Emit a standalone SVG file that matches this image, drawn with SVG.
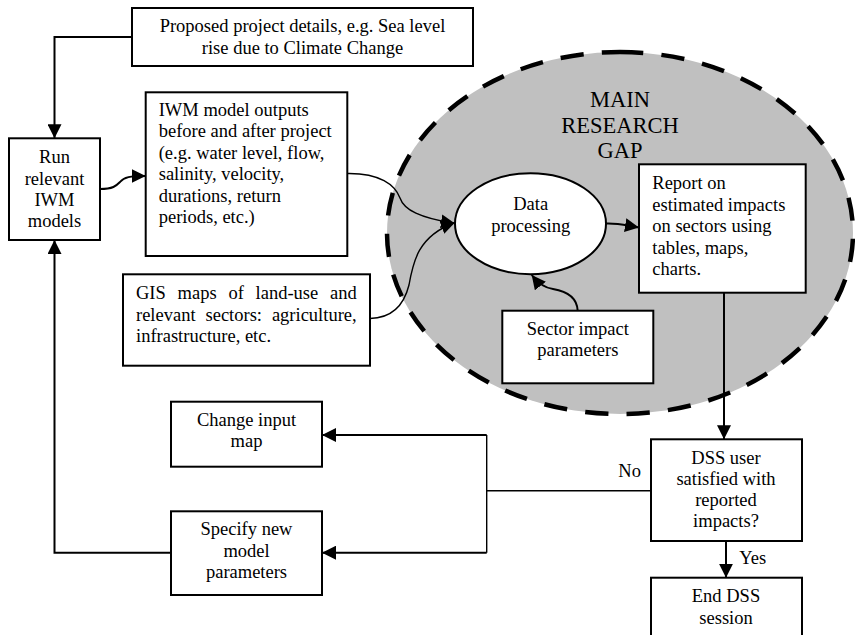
<svg xmlns="http://www.w3.org/2000/svg" width="855" height="635" viewBox="0 0 855 635">
  <defs>
    <style>
      .box { fill: #ffffff; stroke: #000000; stroke-width: 2; }
      .t { font-family: "Liberation Serif", "Times New Roman", serif; font-size: 18.5px; fill: #000000; }
      .c { text-anchor: middle; }
      .big { font-size: 22.5px; }
      .link { fill: none; stroke: #000000; stroke-width: 2; }
      .thin { fill: none; stroke: #000000; stroke-width: 1.4; }
      .gap-area { fill: #c0c0c0; stroke: #000000; stroke-width: 4.5; stroke-dasharray: 23 18; }
    </style>
    <marker id="arrow" markerUnits="userSpaceOnUse" markerWidth="15" markerHeight="14" refX="14" refY="7" orient="auto">
      <path d="M0,0 L14,7 L0,14 z" fill="#000000"/>
    </marker>
  </defs>

  <!-- shaded region: main research gap -->
  <g id="research-gap">
    <path class="gap-area" pathLength="1289" d="M620,52 A233,181 0 1,1 620,414 A233,181 0 1,1 620,52 Z"/>
    <text class="t c big" x="620" y="106.7">MAIN</text>
    <text class="t c big" x="620" y="132.7">RESEARCH</text>
    <text class="t c big" x="620" y="158.3">GAP</text>
  </g>

  <!-- connectors -->
  <g id="connectors">
    <path class="link" d="M132,37 H54.5 V138.3" marker-end="url(#arrow)"/>
    <path class="link" d="M100,189 C113,189 116,186 120,182 C124,177 130,176 145.7,176" marker-end="url(#arrow)"/>
    <path class="thin" d="M347.3,173.5 C380,173 395,185 400,198 C404,210 420,218 455,223.5" marker-end="url(#arrow)"/>
    <path class="thin" d="M370,318.5 C392,318 404,305 409,285 C413,262 418,236 455,222.5" marker-end="url(#arrow)"/>
    <path class="link" d="M606,223.5 C618,223 624,225 639,227.5" marker-end="url(#arrow)"/>
    <path class="link" d="M577.7,310.7 C577,297 565,291 553,289 C545,288 538,283 531.7,275" marker-end="url(#arrow)"/>
    <path class="link" d="M724,292.7 V439.3" marker-end="url(#arrow)"/>
    <path class="link" d="M726,541 V577.7" marker-end="url(#arrow)"/>
    <path class="thin" d="M651,490.7 H486.7"/>
    <path class="thin" d="M486.7,435 V552.7"/>
    <path class="link" d="M486.7,435 H322" marker-end="url(#arrow)"/>
    <path class="link" d="M486.7,552.7 H322" marker-end="url(#arrow)"/>
    <path class="link" d="M171,552.7 H54.5 V240" marker-end="url(#arrow)"/>
    <text class="t" x="618.3" y="476.7">No</text>
    <text class="t" x="739.3" y="564">Yes</text>
  </g>

  <g id="proposed-project">
    <rect class="box" x="132" y="8" width="341" height="58"/>
    <text class="t c" x="302.5" y="32.3">Proposed project details, e.g. Sea level</text>
    <text class="t c" x="302.5" y="54">rise due to Climate Change</text>
  </g>

  <g id="run-models">
    <rect class="box" x="9" y="138.3" width="91" height="101.7"/>
    <text class="t c" x="54.5" y="163.3">Run</text>
    <text class="t c" x="54.5" y="184.5">relevant</text>
    <text class="t c" x="54.5" y="205.5">IWM</text>
    <text class="t c" x="54.5" y="226.7">models</text>
  </g>

  <g id="model-outputs">
    <rect class="box" x="145.7" y="92.3" width="201.6" height="163.7"/>
    <text class="t" x="158.7" y="115.7">IWM model outputs</text>
    <text class="t" x="158.7" y="137.2">before and after project</text>
    <text class="t" x="158.7" y="158.7">(e.g. water level, flow,</text>
    <text class="t" x="158.7" y="180.2">salinity, velocity,</text>
    <text class="t" x="158.7" y="201.7">durations, return</text>
    <text class="t" x="158.7" y="223.2">periods, etc.)</text>
  </g>

  <g id="gis-maps">
    <rect class="box" x="123" y="274.3" width="247" height="91.4"/>
    <text class="t" y="299.3"><tspan x="136">GIS</tspan><tspan x="177.6">maps</tspan><tspan x="228.4">of</tspan><tspan x="255.6">land-use</tspan><tspan x="330">and</tspan></text>
    <text class="t" y="320.8"><tspan x="136">relevant</tspan><tspan x="205.5">sectors:</tspan><tspan x="271.9">agriculture,</tspan></text>
    <text class="t" x="136" y="342.2">infrastructure, etc.</text>
  </g>

  <g id="change-input-map">
    <rect class="box" x="171" y="401.7" width="151" height="65"/>
    <text class="t c" x="246.5" y="426">Change input</text>
    <text class="t c" x="246.5" y="447.3">map</text>
  </g>

  <g id="specify-parameters">
    <rect class="box" x="171" y="511.3" width="151" height="83.7"/>
    <text class="t c" x="246.5" y="535">Specify new</text>
    <text class="t c" x="246.5" y="556.5">model</text>
    <text class="t c" x="246.5" y="578">parameters</text>
  </g>

  <g id="data-processing">
    <ellipse cx="530.5" cy="223.7" rx="75.5" ry="50.5" fill="#ffffff" stroke="#000000" stroke-width="2"/>
    <text class="t c" x="530.7" y="210">Data</text>
    <text class="t c" x="530.7" y="231.5">processing</text>
  </g>

  <g id="impact-report">
    <rect class="box" x="639" y="164.3" width="166.7" height="128.4"/>
    <text class="t" x="652.3" y="189.3">Report on</text>
    <text class="t" x="652.3" y="210.8">estimated impacts</text>
    <text class="t" x="652.3" y="232.3">on sectors using</text>
    <text class="t" x="652.3" y="253.8">tables, maps,</text>
    <text class="t" x="652.3" y="275.3">charts.</text>
  </g>

  <g id="sector-parameters">
    <rect class="box" x="502.3" y="310.7" width="151" height="72.6"/>
    <text class="t c" x="577.8" y="335">Sector impact</text>
    <text class="t c" x="577.8" y="356.3">parameters</text>
  </g>

  <g id="user-satisfied">
    <rect class="box" x="651" y="439.3" width="151" height="101.7"/>
    <text class="t c" x="726" y="464">DSS user</text>
    <text class="t c" x="726" y="485.2">satisfied with</text>
    <text class="t c" x="726" y="506.3">reported</text>
    <text class="t c" x="726" y="527.3">impacts?</text>
  </g>

  <g id="end-session">
    <rect class="box" x="651" y="577.7" width="151" height="80"/>
    <text class="t c" x="726" y="601.7">End DSS</text>
    <text class="t c" x="726" y="623.5">session</text>
  </g>
</svg>
